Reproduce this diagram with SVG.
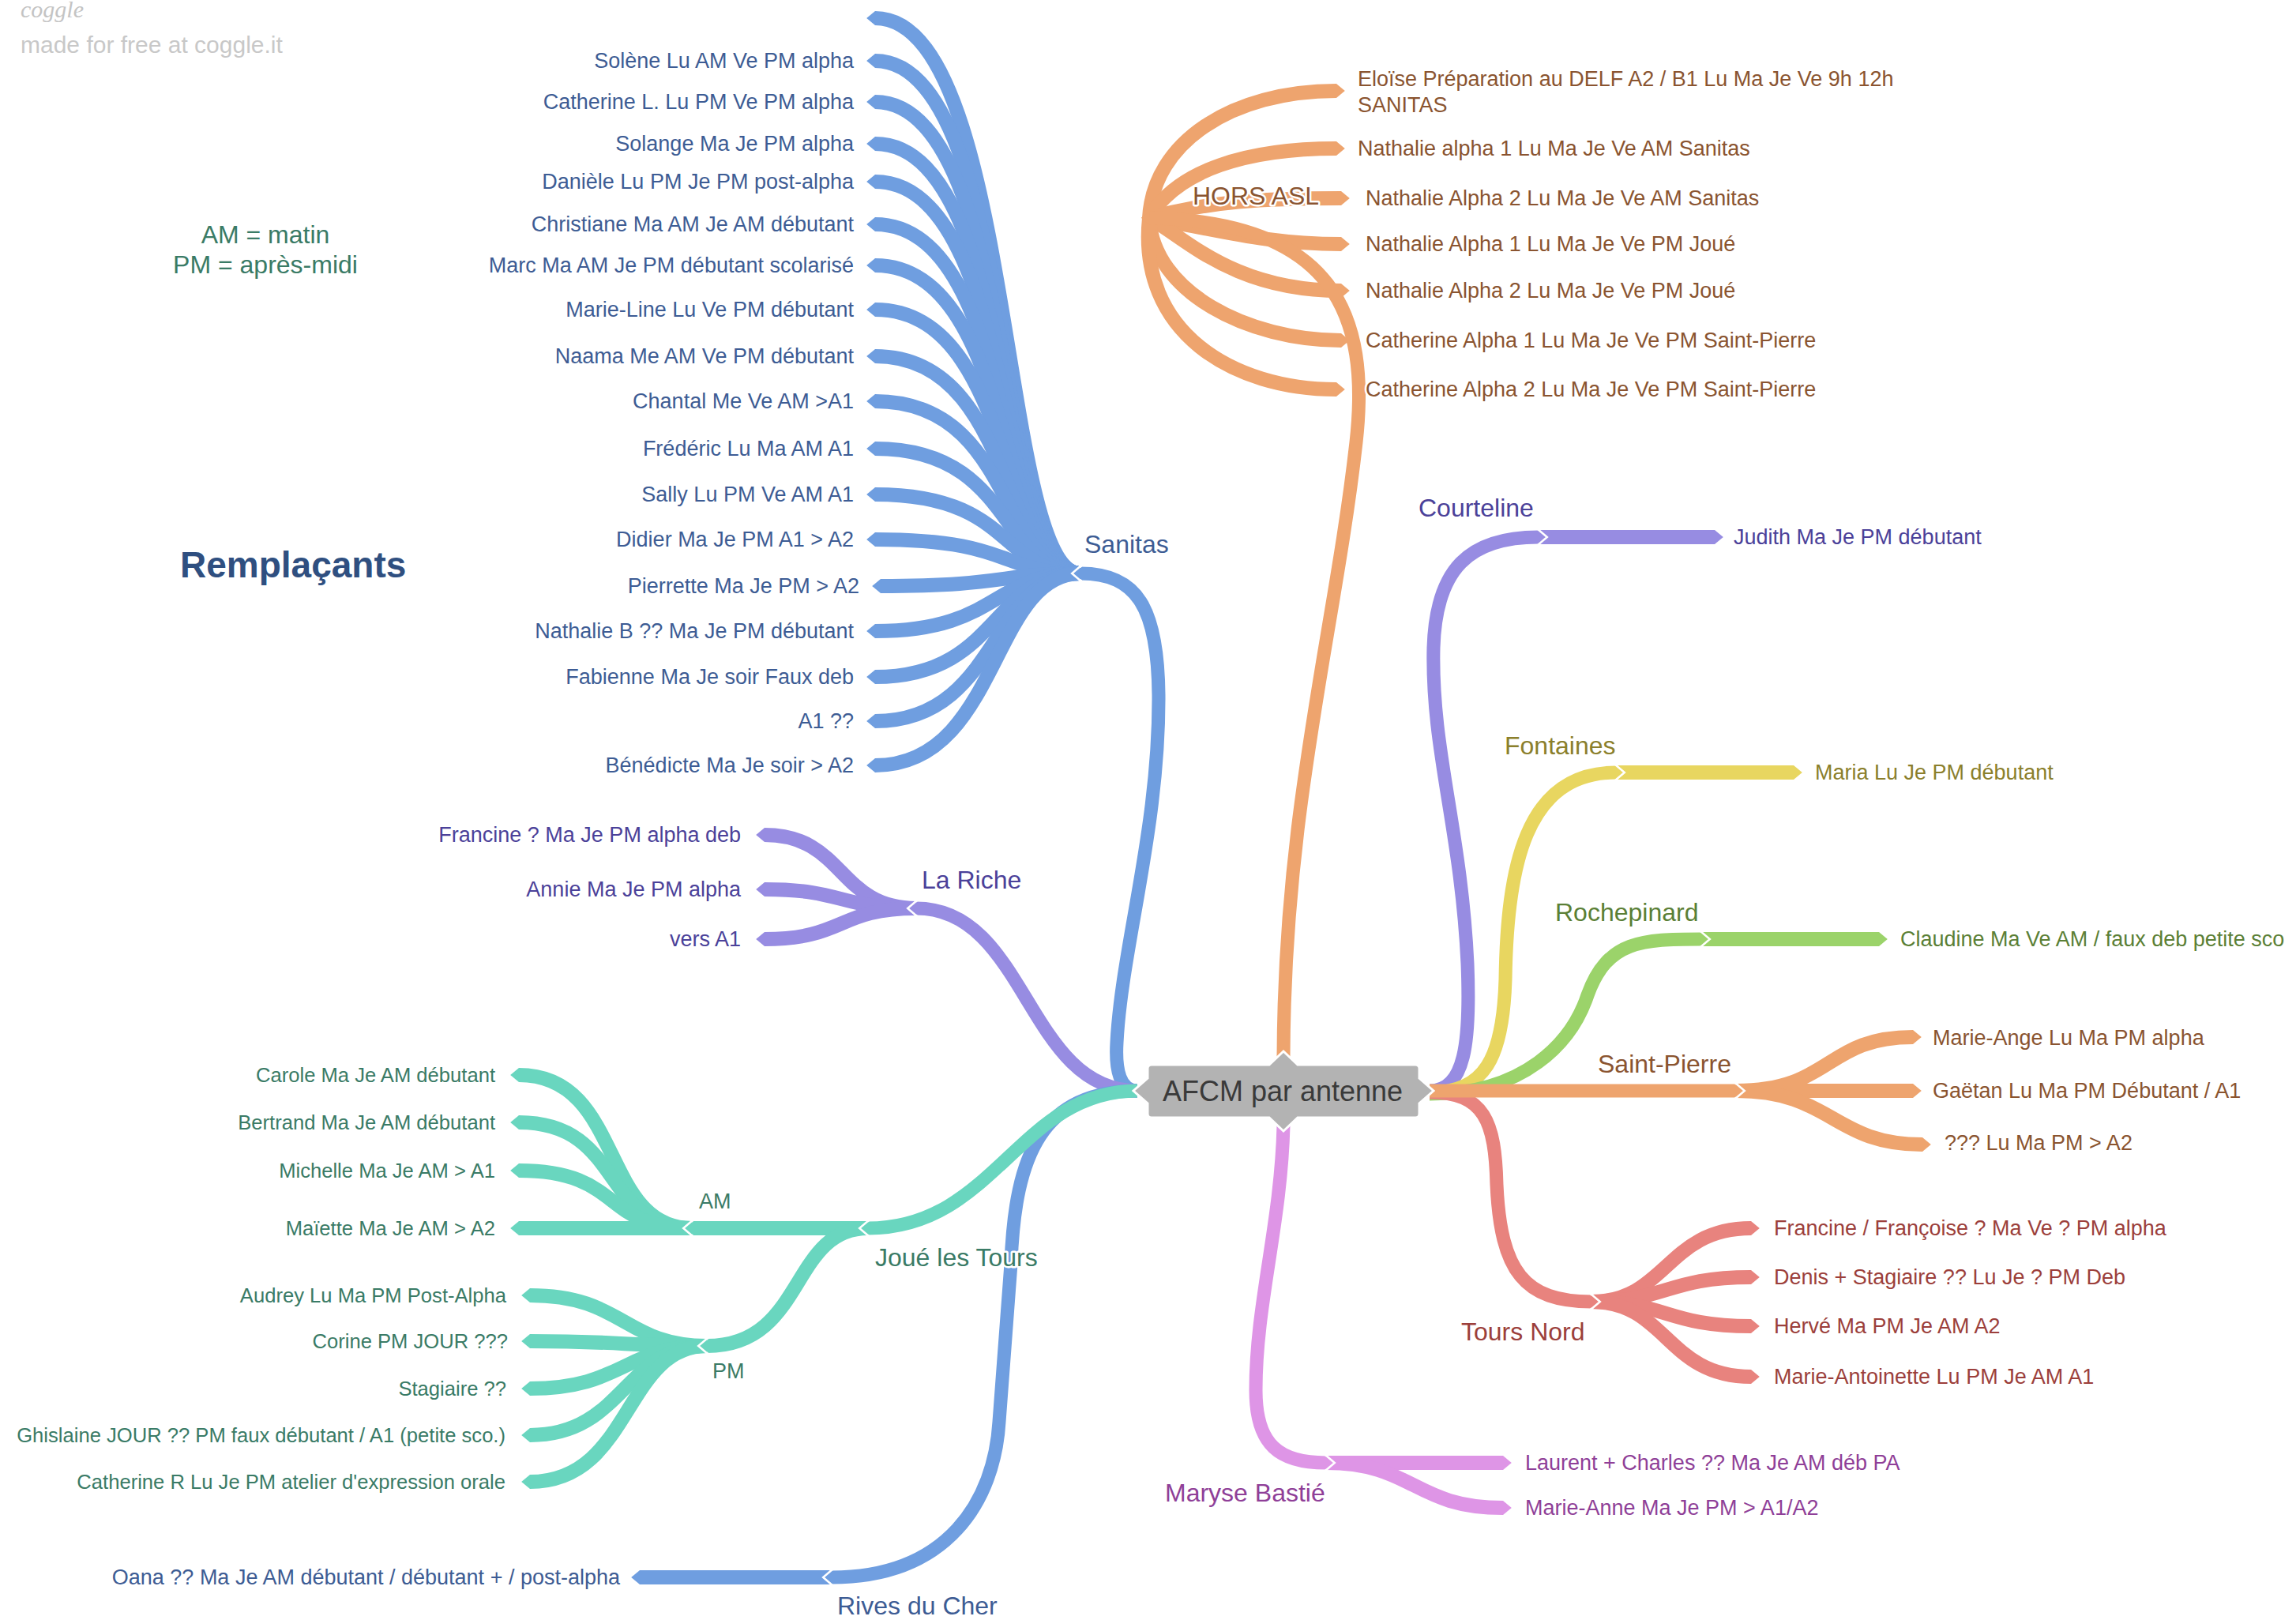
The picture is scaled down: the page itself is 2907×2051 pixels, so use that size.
<svg xmlns="http://www.w3.org/2000/svg" width="2907" height="2051" viewBox="0 0 2907 2051">
<style>
text{font-family:"Liberation Sans",Arial,sans-serif;paint-order:stroke;stroke:#fff;stroke-width:5px;stroke-linejoin:round}
.l{font-size:27px}
.s{font-size:25.6px}
.m{font-size:32px}
.e{text-anchor:end}
#connectors path{fill:none;stroke-width:18}
#connectors path.tk{stroke-width:17}
#connectors path.n{marker-start:url(#notch)}
.pb{stroke:#6f9ee0;marker-end:url(#mb)}
.po{stroke:#eea46e;marker-end:url(#mo)}
.pp{stroke:#978ce2;marker-end:url(#mp)}
.py{stroke:#e8d660;marker-end:url(#my)}
.pg{stroke:#9bd36a;marker-end:url(#mg)}
.pr{stroke:#e8837e;marker-end:url(#mr)}
.pk{stroke:#de95e6;marker-end:url(#mk)}
.pt{stroke:#69d6bf;marker-end:url(#mt)}
.xb{fill:#3d5c94}
.xo{fill:#8a5430}
.xp{fill:#4b4199}
.xy{fill:#8b7f2c}
.xg{fill:#5b7f36}
.xr{fill:#9c3f3b}
.xk{fill:#8f3f98}
.xt{fill:#3a7b66}
</style>
<defs>
<marker id="mb" viewBox="0 0 10 10" refX="0" refY="5" markerWidth="1" markerHeight="1" orient="auto" markerUnits="strokeWidth"><path d="M0,0 L6,5 L0,10 Z" fill="#6f9ee0"/></marker>
<marker id="mo" viewBox="0 0 10 10" refX="0" refY="5" markerWidth="1" markerHeight="1" orient="auto" markerUnits="strokeWidth"><path d="M0,0 L6,5 L0,10 Z" fill="#eea46e"/></marker>
<marker id="mp" viewBox="0 0 10 10" refX="0" refY="5" markerWidth="1" markerHeight="1" orient="auto" markerUnits="strokeWidth"><path d="M0,0 L6,5 L0,10 Z" fill="#978ce2"/></marker>
<marker id="my" viewBox="0 0 10 10" refX="0" refY="5" markerWidth="1" markerHeight="1" orient="auto" markerUnits="strokeWidth"><path d="M0,0 L6,5 L0,10 Z" fill="#e8d660"/></marker>
<marker id="mg" viewBox="0 0 10 10" refX="0" refY="5" markerWidth="1" markerHeight="1" orient="auto" markerUnits="strokeWidth"><path d="M0,0 L6,5 L0,10 Z" fill="#9bd36a"/></marker>
<marker id="mr" viewBox="0 0 10 10" refX="0" refY="5" markerWidth="1" markerHeight="1" orient="auto" markerUnits="strokeWidth"><path d="M0,0 L6,5 L0,10 Z" fill="#e8837e"/></marker>
<marker id="mk" viewBox="0 0 10 10" refX="0" refY="5" markerWidth="1" markerHeight="1" orient="auto" markerUnits="strokeWidth"><path d="M0,0 L6,5 L0,10 Z" fill="#de95e6"/></marker>
<marker id="mt" viewBox="0 0 10 10" refX="0" refY="5" markerWidth="1" markerHeight="1" orient="auto" markerUnits="strokeWidth"><path d="M0,0 L6,5 L0,10 Z" fill="#69d6bf"/></marker>
<marker id="notch" viewBox="0 0 10 10" refX="0" refY="5" markerWidth="1" markerHeight="1" orient="auto" markerUnits="strokeWidth" overflow="visible"><path d="M-1,-1 L6,5 L-1,11" fill="none" stroke="#fff" stroke-width="1.4"/></marker>
</defs>
<rect width="2907" height="2051" fill="#fff"/>

<!-- watermark -->
<text x="26" y="22" font-style="italic" style="font-family:'Liberation Serif',serif;font-size:30px;fill:#c4c4c4;stroke:none">coggle</text>
<text x="26" y="67" style="font-size:30px;fill:#c8c8c8;stroke:none">made for free at coggle.it</text>

<g id="connectors">
<!-- HORS ASL -->
<path class="po" d="M1455,276 C1460,180 1560,115 1692,115"/>
<path class="po" d="M1455,276 C1490,215 1580,188 1692,188"/>
<path class="po" d="M1455,276 C1530,255 1600,251 1698,251"/>
<path class="po" d="M1455,276 C1540,290 1600,309 1698,309"/>
<path class="po" d="M1455,276 C1500,300 1560,368 1698,368"/>
<path class="po" d="M1455,276 C1460,370 1580,431 1698,431"/>
<path class="po" d="M1455,276 C1440,420 1560,493 1692,493"/>
<path class="po tk" d="M1625,1338 C1626,1020 1690,800 1717,560 C1735,400 1690,280 1455,276"/>
<!-- Sanitas -->
<path class="pb tk" d="M1440,1381 C1418,1381 1412,1355 1414,1320 C1420,1200 1468,1050 1467,880 C1466,770 1440,726 1368,726"/>
<path class="pb n" d="M1368,726 C1265,726 1285,23 1108,23"/>
<path class="pb n" d="M1368,726 C1265,726 1285,77 1108,77"/>
<path class="pb n" d="M1368,726 C1265,726 1285,129 1108,129"/>
<path class="pb n" d="M1368,726 C1265,726 1285,182 1108,182"/>
<path class="pb n" d="M1368,726 C1265,726 1285,230 1108,230"/>
<path class="pb n" d="M1368,726 C1265,726 1285,284 1108,284"/>
<path class="pb n" d="M1368,726 C1265,726 1285,336 1108,336"/>
<path class="pb n" d="M1368,726 C1265,726 1285,392 1108,392"/>
<path class="pb n" d="M1368,726 C1265,726 1285,451 1108,451"/>
<path class="pb n" d="M1368,726 C1265,726 1285,508 1108,508"/>
<path class="pb n" d="M1368,726 C1265,726 1285,568 1108,568"/>
<path class="pb n" d="M1368,726 C1265,726 1285,626 1108,626"/>
<path class="pb n" d="M1368,726 C1265,726 1285,683 1108,683"/>
<path class="pb n" d="M1368,726 C1265,726 1275,742 1115,742"/>
<path class="pb n" d="M1368,726 C1255,726 1265,799 1108,799"/>
<path class="pb n" d="M1368,726 C1255,726 1265,857 1108,857"/>
<path class="pb n" d="M1368,726 C1255,726 1265,913 1108,913"/>
<path class="pb n" d="M1368,726 C1255,726 1265,969 1108,969"/>
<!-- La Riche -->
<path class="pp tk" d="M1440,1381 C1300,1381 1300,1150 1160,1150"/>
<path class="pp n" d="M1160,1150 C1060,1150 1070,1057 968,1057"/>
<path class="pp n" d="M1160,1150 C1060,1150 1070,1126 968,1126"/>
<path class="pp n" d="M1160,1150 C1060,1150 1070,1189 968,1189"/>
<!-- Rives du Cher -->
<path class="pb tk" d="M1440,1381 C1320,1381 1285,1460 1280,1600 L1265,1800 C1259,1900 1200,1997 1053,1997"/>
<path class="pb n" d="M1053,1997 L810,1997"/>
<!-- Joué les Tours -->
<path class="pt tk" d="M1440,1381 C1290,1381 1260,1555 1099,1555"/>
<path class="pt n" d="M1099,1555 L876,1555"/>
<path class="pt n" d="M1099,1555 C1000,1555 1020,1704 895,1704"/>
<path class="pt n" d="M876,1555 C760,1555 790,1361 657,1361"/>
<path class="pt n" d="M876,1555 C760,1555 790,1421 657,1421"/>
<path class="pt n" d="M876,1555 C760,1555 790,1482 657,1482"/>
<path class="pt n" d="M876,1555 L657,1555"/>
<path class="pt n" d="M895,1704 C790,1704 790,1640 671,1640"/>
<path class="pt n" d="M895,1704 C790,1704 790,1698 671,1698"/>
<path class="pt n" d="M895,1704 C790,1704 790,1758 671,1758"/>
<path class="pt n" d="M895,1704 C790,1704 790,1817 671,1817"/>
<path class="pt n" d="M895,1704 C790,1704 800,1876 671,1876"/>
<!-- Courteline -->
<path class="pp tk" d="M1810,1381 C1855,1381 1862,1320 1858,1220 C1850,1050 1812,950 1815,820 C1818,720 1860,680 1948,680"/>
<path class="pp n" d="M1948,680 L2171,680"/>
<!-- Fontaines -->
<path class="py tk" d="M1810,1383 C1880,1383 1903,1340 1906,1240 C1908,1100 1930,978 2046,978"/>
<path class="py n" d="M2046,978 L2271,978"/>
<!-- Rochepinard -->
<path class="pg tk" d="M1810,1385 C1930,1385 1990,1320 2010,1260 C2035,1190 2080,1189 2154,1189"/>
<path class="pg n" d="M2154,1189 L2379,1189"/>
<!-- Tours Nord -->
<path class="pr tk" d="M1810,1383 C1880,1383 1893,1420 1895,1500 C1900,1610 1930,1648 2015,1648"/>
<path class="pr n" d="M2015,1648 C2110,1648 2110,1555 2217,1555"/>
<path class="pr n" d="M2015,1648 C2110,1648 2110,1617 2217,1617"/>
<path class="pr n" d="M2015,1648 C2110,1648 2110,1679 2217,1679"/>
<path class="pr n" d="M2015,1648 C2110,1648 2110,1743 2217,1743"/>
<!-- Saint-Pierre -->
<path class="po tk" d="M1810,1381 L2198,1381"/>
<path class="po n" d="M2198,1381 C2320,1381 2310,1313 2422,1313"/>
<path class="po n" d="M2198,1381 L2422,1381"/>
<path class="po n" d="M2198,1381 C2320,1381 2320,1449 2434,1449"/>
<!-- Maryse Bastié -->
<path class="pk tk" d="M1625,1425 C1622,1550 1590,1650 1590,1760 C1590,1830 1620,1852 1679,1852"/>
<path class="pk n" d="M1679,1852 L1903,1852"/>
<path class="pk n" d="M1679,1852 C1790,1852 1790,1909 1903,1909"/>
</g>

<g id="node-center">
<path d="M1458,1348 H1607 L1625,1331 L1643,1348 H1792 Q1797,1348 1797,1353 V1365 L1815,1381 L1797,1397 V1410 Q1797,1415 1792,1415 H1643 L1625,1432 L1607,1415 H1458 Q1453,1415 1453,1410 V1397 L1435,1381 L1453,1365 V1353 Q1453,1348 1458,1348 Z" fill="#b3b3b3" stroke="#fff" stroke-width="3"/>
<text x="1624" y="1394" text-anchor="middle" style="font-size:36px;fill:#3a3a3a;stroke:none">AFCM par antenne</text>
</g>

<g id="node-legend"><text x="336" y="308" text-anchor="middle" class="m xt">AM = matin</text><text x="336" y="346" text-anchor="middle" class="m xt">PM = après-midi</text></g>
<g id="node-remplacants"><text x="228" y="731" style="font-size:46px;font-weight:bold;fill:#2f4f80">Remplaçants</text></g>

<g id="node-hors-asl"><text x="1510" y="259" class="m xo">HORS ASL</text></g>
<g id="node-eloise"><text x="1719" y="109" class="l xo">Eloïse Préparation au DELF A2 / B1 Lu Ma Je Ve 9h 12h</text><text x="1719" y="142" class="l xo">SANITAS</text></g>
<g id="node-nathalie-a1-am"><text x="1719" y="197" class="l xo">Nathalie alpha 1 Lu Ma Je Ve AM Sanitas</text></g>
<g id="node-nathalie-a2-am"><text x="1729" y="260" class="l xo">Nathalie Alpha 2 Lu Ma Je Ve AM Sanitas</text></g>
<g id="node-nathalie-a1-pm"><text x="1729" y="318" class="l xo">Nathalie Alpha 1 Lu Ma Je Ve PM Joué</text></g>
<g id="node-nathalie-a2-pm"><text x="1729" y="377" class="l xo">Nathalie Alpha 2 Lu Ma Je Ve PM Joué</text></g>
<g id="node-catherine-a1"><text x="1729" y="440" class="l xo">Catherine Alpha 1 Lu Ma Je Ve PM Saint-Pierre</text></g>
<g id="node-catherine-a2"><text x="1729" y="502" class="l xo">Catherine Alpha 2 Lu Ma Je Ve PM Saint-Pierre</text></g>

<g id="node-sanitas"><text x="1373" y="700" class="m xb">Sanitas</text></g>
<g id="node-solene"><text x="1081" y="86" class="l e xb">Solène Lu AM Ve PM alpha</text></g>
<g id="node-catherine-l"><text x="1081" y="138" class="l e xb">Catherine L. Lu PM Ve PM alpha</text></g>
<g id="node-solange"><text x="1081" y="191" class="l e xb">Solange Ma Je PM alpha</text></g>
<g id="node-daniele"><text x="1081" y="239" class="l e xb">Danièle Lu PM Je PM post-alpha</text></g>
<g id="node-christiane"><text x="1081" y="293" class="l e xb">Christiane Ma AM Je AM débutant</text></g>
<g id="node-marc"><text x="1081" y="345" class="l e xb">Marc Ma AM Je PM débutant scolarisé</text></g>
<g id="node-marie-line"><text x="1081" y="401" class="l e xb">Marie-Line Lu Ve PM débutant</text></g>
<g id="node-naama"><text x="1081" y="460" class="l e xb">Naama Me AM Ve PM débutant</text></g>
<g id="node-chantal"><text x="1081" y="517" class="l e xb">Chantal Me Ve AM &gt;A1</text></g>
<g id="node-frederic"><text x="1081" y="577" class="l e xb">Frédéric Lu Ma AM A1</text></g>
<g id="node-sally"><text x="1081" y="635" class="l e xb">Sally Lu PM Ve AM A1</text></g>
<g id="node-didier"><text x="1081" y="692" class="l e xb">Didier Ma Je PM A1 &gt; A2</text></g>
<g id="node-pierrette"><text x="1088" y="751" class="l e xb">Pierrette Ma Je PM &gt; A2</text></g>
<g id="node-nathalie-b"><text x="1081" y="808" class="l e xb">Nathalie B ?? Ma Je PM débutant</text></g>
<g id="node-fabienne"><text x="1081" y="866" class="l e xb">Fabienne Ma Je soir Faux deb</text></g>
<g id="node-a1"><text x="1081" y="922" class="l e xb">A1 ??</text></g>
<g id="node-benedicte"><text x="1081" y="978" class="l e xb">Bénédicte Ma Je soir &gt; A2</text></g>

<g id="node-la-riche"><text x="1167" y="1125" class="m xp">La Riche</text></g>
<g id="node-francine"><text x="938" y="1066" class="l e xp">Francine ? Ma Je PM alpha deb</text></g>
<g id="node-annie"><text x="938" y="1135" class="l e xp">Annie Ma Je PM alpha</text></g>
<g id="node-vers-a1"><text x="938" y="1198" class="l e xp">vers A1</text></g>

<g id="node-joue"><text x="1108" y="1603" class="m xt">Joué les Tours</text></g>
<g id="node-am"><text x="885" y="1530" class="l xt">AM</text></g>
<g id="node-pm"><text x="902" y="1745" class="l xt">PM</text></g>
<g id="node-carole"><text x="627" y="1370" class="s e xt">Carole Ma Je AM débutant</text></g>
<g id="node-bertrand"><text x="627" y="1430" class="s e xt">Bertrand Ma Je AM débutant</text></g>
<g id="node-michelle"><text x="627" y="1491" class="s e xt">Michelle Ma Je AM &gt; A1</text></g>
<g id="node-maiette"><text x="627" y="1564" class="s e xt">Maïette Ma Je AM &gt; A2</text></g>
<g id="node-audrey"><text x="641" y="1649" class="s e xt">Audrey Lu Ma PM Post-Alpha</text></g>
<g id="node-corine"><text x="643" y="1707" class="s e xt">Corine PM JOUR ???</text></g>
<g id="node-stagiaire"><text x="641" y="1767" class="s e xt">Stagiaire ??</text></g>
<g id="node-ghislaine"><text x="640" y="1826" class="s e xt">Ghislaine JOUR ?? PM faux débutant / A1 (petite sco.)</text></g>
<g id="node-catherine-r"><text x="640" y="1885" class="s e xt">Catherine R Lu Je PM atelier d'expression orale</text></g>

<g id="node-rives"><text x="1060" y="2044" class="m xb">Rives du Cher</text></g>
<g id="node-oana"><text x="785" y="2006" class="l e xb">Oana ?? Ma Je AM débutant / débutant + / post-alpha</text></g>

<g id="node-courteline"><text x="1796" y="654" class="m xp">Courteline</text></g>
<g id="node-judith"><text x="2195" y="689" class="l xp">Judith Ma Je PM débutant</text></g>
<g id="node-fontaines"><text x="1905" y="955" class="m xy">Fontaines</text></g>
<g id="node-maria"><text x="2298" y="987" class="l xy">Maria Lu Je PM débutant</text></g>
<g id="node-rochepinard"><text x="1969" y="1166" class="m xg">Rochepinard</text></g>
<g id="node-claudine"><text x="2406" y="1198" class="l xg">Claudine Ma Ve AM / faux deb petite sco</text></g>

<g id="node-saint-pierre"><text x="2023" y="1358" class="m xo">Saint-Pierre</text></g>
<g id="node-marie-ange"><text x="2447" y="1323" class="l xo">Marie-Ange Lu Ma PM alpha</text></g>
<g id="node-gaetan"><text x="2447" y="1390" class="l xo">Gaëtan Lu Ma PM Débutant / A1</text></g>
<g id="node-inconnu"><text x="2462" y="1456" class="l xo">??? Lu Ma PM &gt; A2</text></g>

<g id="node-tours-nord"><text x="1850" y="1697" class="m xr">Tours Nord</text></g>
<g id="node-francine-francoise"><text x="2246" y="1564" class="l xr">Francine / Françoise ? Ma Ve ? PM alpha</text></g>
<g id="node-denis"><text x="2246" y="1626" class="l xr">Denis + Stagiaire ?? Lu Je ? PM Deb</text></g>
<g id="node-herve"><text x="2246" y="1688" class="l xr">Hervé Ma PM Je AM A2</text></g>
<g id="node-marie-antoinette"><text x="2246" y="1752" class="l xr">Marie-Antoinette Lu PM Je AM A1</text></g>

<g id="node-maryse"><text x="1475" y="1901" class="m xk">Maryse Bastié</text></g>
<g id="node-laurent"><text x="1931" y="1861" class="l xk">Laurent + Charles ?? Ma Je AM déb PA</text></g>
<g id="node-marie-anne"><text x="1931" y="1918" class="l xk">Marie-Anne Ma Je PM &gt; A1/A2</text></g>
</svg>
